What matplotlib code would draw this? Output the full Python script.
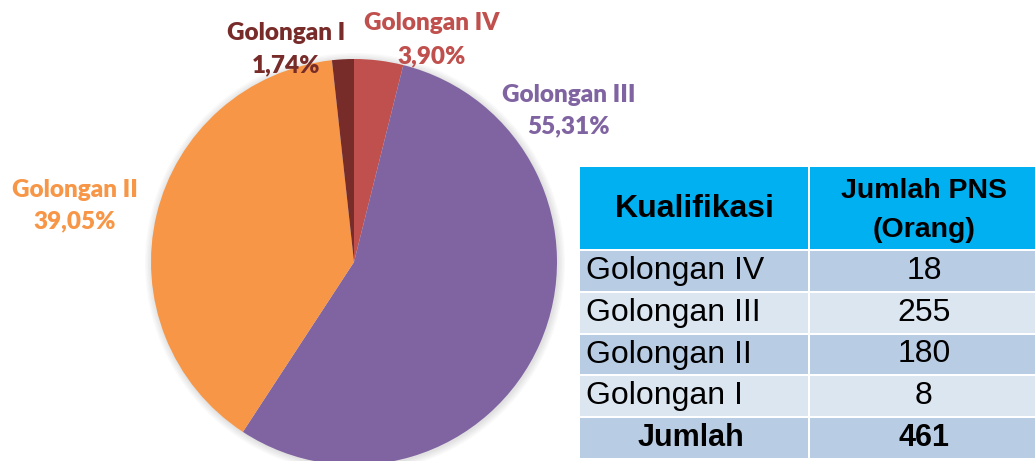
import matplotlib
matplotlib.use("Agg")
import matplotlib.pyplot as plt
from matplotlib.patches import Rectangle

# ---- data ----
categories = ["Golongan IV", "Golongan III", "Golongan II", "Golongan I"]
counts = [18, 255, 180, 8]
percent_labels = ["3,90%", "55,31%", "39,05%", "1,74%"]
header = ["Kualifikasi", "Jumlah PNS", "(Orang)"]
total_label = "Jumlah"

# ---- style ----
W, H = 1035, 461
colors = ["#C0504D", "#8064A2", "#F79646", "#772C2A"]
label_pos = [(432, 23, 56), (569, 95, 126), (75, 190, 221), (286, 33, 65)]
label_font = "Lato"
table_font = "Liberation Sans"

fig = plt.figure(figsize=(W / 100, H / 100), dpi=100)
ax = fig.add_axes([0, 0, 1, 1])

cx, cy, r = 354, H - 262, 203
# soft shadow
for i in range(5):
    ax.add_patch(plt.Circle((cx + 1, cy - 1), r + 1 + 1.5 * i, color="black", alpha=0.025, lw=0, zorder=0))
ax.pie(counts, colors=colors, startangle=90, counterclock=False,
       center=(cx, cy), radius=r, wedgeprops=dict(linewidth=0), frame=True)
ax.set_xlim(0, W)
ax.set_ylim(0, H)
ax.set_aspect("equal")
ax.axis("off")

for cat, pct, col, (x, y1, y2) in zip(categories, percent_labels, colors, label_pos):
    ax.text(x, H - y1, cat, color=col, fontsize=17.5, fontweight="heavy", family=label_font,
            ha="center", va="center", zorder=5)
    ax.text(x, H - y2, pct, color=col, fontsize=17.5, fontweight="heavy", family=label_font,
            ha="center", va="center", zorder=5)

# ---- table ----
x0, x1, x2 = 580, 809, 1035
gap = 2
header_top, header_bot = 167, 249
row_h = 41.8
ax.add_patch(Rectangle((x0, H - header_bot), x1 - x0 - gap / 2, header_bot - header_top,
                       color="#00B0F0", lw=0, zorder=3))
ax.add_patch(Rectangle((x1 + gap / 2, H - header_bot), x2 - x1, header_bot - header_top,
                       color="#00B0F0", lw=0, zorder=3))
ax.text((x0 + x1) / 2, H - (header_top + header_bot) / 2 - 1, header[0], fontsize=23,
        fontweight="bold", family=table_font, ha="center", va="center", zorder=4)
ax.text(924, H - 191, header[1], fontsize=20.5,
        fontweight="bold", family=table_font, ha="center", va="center", zorder=4)
ax.text(924, H - 230, header[2], fontsize=20.5,
        fontweight="bold", family=table_font, ha="center", va="center", zorder=4)

rows = list(zip(categories, [str(c) for c in counts])) + [(total_label, str(sum(counts)))]
row_colors = ["#B8CCE4", "#DCE6F1"]
top = header_bot + 2
for i, (name, val) in enumerate(rows):
    t = top + i * row_h
    b = t + row_h - 2
    col = row_colors[i % 2]
    ax.add_patch(Rectangle((x0, H - b), x1 - x0 - gap / 2, b - t, color=col, lw=0, zorder=3))
    ax.add_patch(Rectangle((x1 + gap / 2, H - b), x2 - x1, b - t, color=col, lw=0, zorder=3))
    ym = H - (t + b) / 2
    last = i == len(rows) - 1
    if last:
        ax.text((x0 + x1) / 2 - 4, ym, name, fontsize=22, fontweight="bold",
                family=table_font, ha="center", va="center", zorder=4)
        ax.text(924, ym, val, fontsize=22, fontweight="bold",
                family=table_font, ha="center", va="center", zorder=4)
    else:
        ax.text(x0 + 6, ym, name, fontsize=23, family=table_font,
                ha="left", va="center", zorder=4)
        ax.text(924, ym, val, fontsize=23, family=table_font,
                ha="center", va="center", zorder=4)

fig.savefig("out.png", dpi=100)
